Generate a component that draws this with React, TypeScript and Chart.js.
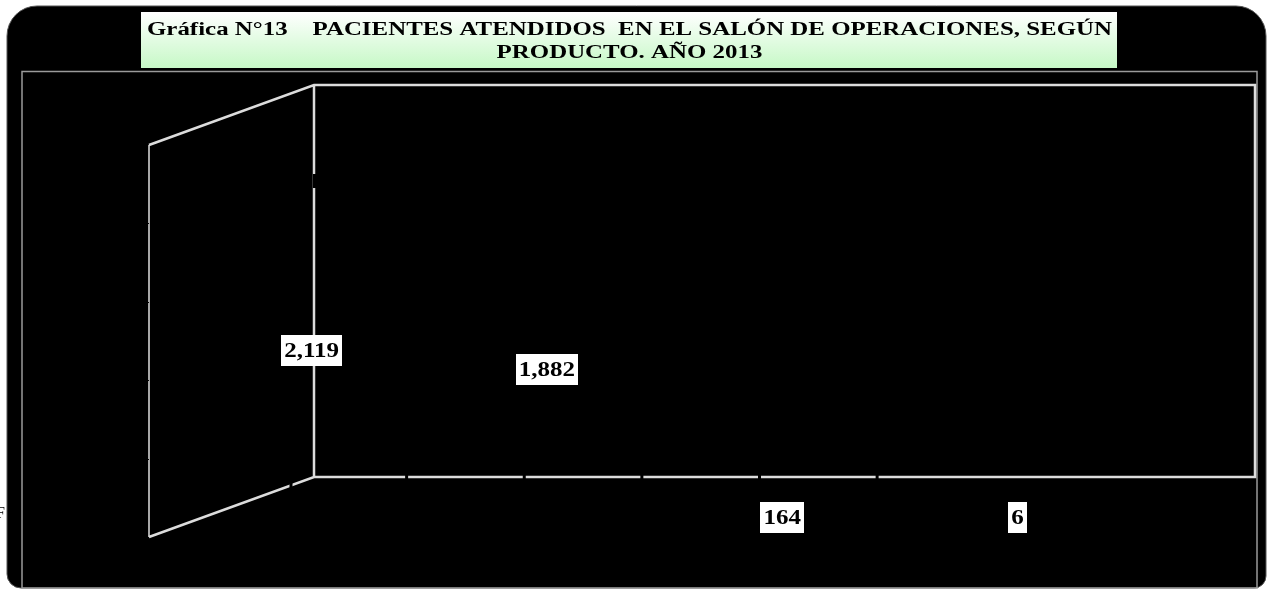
import React, { useEffect, useRef } from "react";
import { Chart, registerables } from "chart.js";

Chart.register(...registerables);

const CATEGORIES = ["Producto 1", "Producto 2", "Producto 3", "Producto 4"];
const PACIENTES = [2119, 1882, 164, 6];
const Y_TICKS = [0, 1000, 2000, 3000, 4000, 5000];
const TITLE_LINES = [
  "Gráfica N°13    PACIENTES ATENDIDOS  EN EL SALÓN DE OPERACIONES, SEGÚN",
  "PRODUCTO. AÑO 2013",
];
const SOURCE_TEXT = "F";

const W = 1267;
const H = 589;
const SERIF = '"Liberation Serif", "Times New Roman", serif';
const DEPTH_X = -165;
const DEPTH_Y = 60;

const fmt = (v: number) => v.toLocaleString("en-US");

const frame3d = {
  id: "frame3d",
  beforeDraw(chart: any) {
    const ctx = chart.ctx as CanvasRenderingContext2D;
    ctx.save();
    ctx.fillStyle = "#ffffff";
    ctx.fillRect(0, 0, W, H);

    // source text fragment at page edge
    ctx.fillStyle = "#000";
    ctx.font = `16px ${SERIF}`;
    ctx.textAlign = "left";
    ctx.textBaseline = "alphabetic";
    ctx.fillText(SOURCE_TEXT, -4, 518);

    // outer rounded black panel
    ctx.beginPath();
    (ctx as any).roundRect(7, 6, 1259, 582, [30, 30, 12, 14]);
    ctx.fillStyle = "#000";
    ctx.fill();
    ctx.strokeStyle = "#555";
    ctx.lineWidth = 1;
    ctx.stroke();

    // plot frame
    ctx.strokeStyle = "#9a9a9a";
    ctx.lineWidth = 1.5;
    ctx.strokeRect(22, 71.5, 1235, 516.5);

    // title box
    const g = ctx.createLinearGradient(0, 12, 0, 68);
    g.addColorStop(0, "#ffffff");
    g.addColorStop(1, "#c6f8c6");
    ctx.fillStyle = g;
    ctx.fillRect(141, 12, 976, 56);

    ctx.fillStyle = "#000";
    ctx.font = `bold 18px ${SERIF}`;
    ctx.textAlign = "center";
    const w0 = ctx.measureText(TITLE_LINES[0]).width;
    const sx = 965 / w0;
    const baselines = [35, 57.5];
    TITLE_LINES.forEach((line, i) => {
      ctx.save();
      ctx.translate(629.5, baselines[i]);
      ctx.scale(sx, 1);
      ctx.fillText(line, 0, 0);
      ctx.restore();
    });
    ctx.restore();
  },
  afterDatasetsDraw(chart: any) {
    const ctx = chart.ctx as CanvasRenderingContext2D;
    const { left, top, right, bottom } = chart.chartArea;
    const xs = chart.scales.x;
    const ys = chart.scales.y;
    ctx.save();
    ctx.lineCap = "butt";

    // left side wall vertical (gray)
    ctx.strokeStyle = "#a8a8a8";
    ctx.lineWidth = 2;
    ctx.beginPath();
    ctx.moveTo(left + DEPTH_X, top + DEPTH_Y);
    ctx.lineTo(left + DEPTH_X, bottom + DEPTH_Y);
    ctx.stroke();

    // wall diagonals and back wall
    ctx.strokeStyle = "#dcdcdc";
    ctx.lineWidth = 2.5;
    ctx.beginPath();
    ctx.moveTo(left + DEPTH_X, top + DEPTH_Y);
    ctx.lineTo(left, top);
    ctx.lineTo(right, top);
    ctx.lineTo(right, bottom);
    ctx.lineTo(left, bottom);
    ctx.lineTo(left + DEPTH_X, bottom + DEPTH_Y);
    ctx.moveTo(left, top);
    ctx.lineTo(left, bottom);
    ctx.stroke();

    // tick notches on the side wall
    ctx.strokeStyle = "#000";
    ctx.lineWidth = 1;
    Y_TICKS.slice(1, -1).forEach((t) => {
      const y = Math.round(ys.getPixelForValue(t) + DEPTH_Y) + 0.5;
      ctx.beginPath();
      ctx.moveTo(left + DEPTH_X - 3, y);
      ctx.lineTo(left + DEPTH_X, y);
      ctx.stroke();
    });

    // small black cuts crossing the floor line
    ctx.lineWidth = 3;
    [0, 0.5, 1, 1.5, 2].forEach((k) => {
      const x = xs.getPixelForValue(k) - 25;
      ctx.beginPath();
      ctx.moveTo(x, bottom - 3);
      ctx.lineTo(x, bottom + 3);
      ctx.stroke();
    });
    // cut on the diagonal and the back-wall edge
    ctx.beginPath();
    ctx.moveTo(left - 23, bottom + 3);
    ctx.lineTo(left - 23, bottom + 13);
    ctx.stroke();
    ctx.lineWidth = 4;
    ctx.beginPath();
    ctx.moveTo(left + 1, top + 89);
    ctx.lineTo(left + 1, top + 103);
    ctx.stroke();

    // data labels
    const maxV = Math.max(...PACIENTES);
    ctx.font = `bold 20px ${SERIF}`;
    ctx.textAlign = "center";
    ctx.textBaseline = "alphabetic";
    const lsx = 1.25;
    PACIENTES.forEach((v, i) => {
      const cx = xs.getPixelForValue(i) - 120;
      const base = v < 0.1 * maxV ? ys.getPixelForValue(0) : ys.getPixelForValue(v);
      const cy = base + 40;
      const txt = fmt(v);
      const tw = ctx.measureText(txt).width * lsx;
      const bw = tw + 6;
      const bh = 31;
      ctx.fillStyle = "#ffffff";
      ctx.fillRect(Math.round(cx - bw / 2), Math.round(cy - bh / 2), Math.round(bw), bh);
      ctx.fillStyle = "#000";
      ctx.save();
      ctx.translate(cx, cy + 6.5);
      ctx.scale(lsx, 1);
      ctx.fillText(txt, 0, 0);
      ctx.restore();
    });
    ctx.restore();
  },
};

export default function App() {
  const ref = useRef<HTMLCanvasElement | null>(null);
  useEffect(() => {
    if (!ref.current) return;
    let alive = true;
    const chart = new Chart(ref.current, {
      type: "bar",
      data: {
        labels: CATEGORIES,
        datasets: [
          {
            label: "Pacientes",
            data: PACIENTES,
            backgroundColor: "#000000",
            borderWidth: 0,
          },
        ],
      },
      options: {
        responsive: false,
        animation: false,
        devicePixelRatio: 1,
        layout: { padding: { left: 314, top: 85, right: 12, bottom: 112 } },
        plugins: {
          legend: { display: false },
          tooltip: { enabled: false },
          title: { display: false },
        },
        scales: {
          x: { type: "category", display: false },
          y: {
            display: false,
            min: Y_TICKS[0],
            max: Y_TICKS[Y_TICKS.length - 1],
            ticks: { stepSize: 1000 },
          },
        },
      },
      plugins: [frame3d],
    });
    if ((document as any).fonts && (document as any).fonts.load) {
      Promise.all([
        document.fonts.load('bold 18px "Liberation Serif"'),
        document.fonts.load('16px "Liberation Serif"'),
      ])
        .then(() => {
          if (alive) chart.draw();
        })
        .catch(() => {});
    }
    return () => {
      alive = false;
      chart.destroy();
    };
  }, []);
  return (
    <canvas
      ref={ref}
      width={W}
      height={H}
      style={{ position: "fixed", left: 0, top: 0, width: W, height: H }}
    />
  );
}
